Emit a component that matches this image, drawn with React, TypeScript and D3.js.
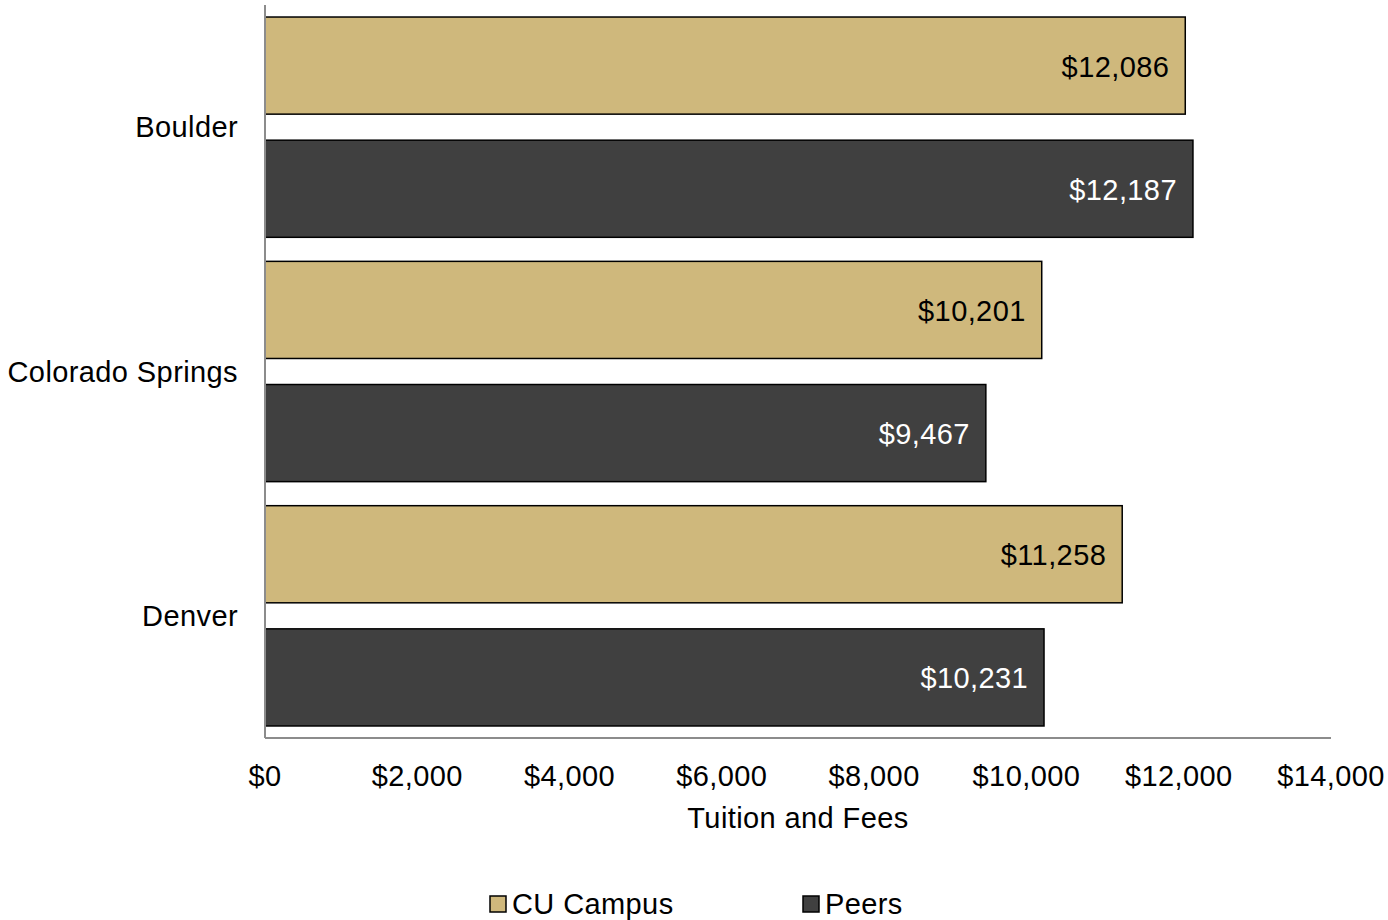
import React from "react";
import * as d3 from "d3";

const categories = ["Boulder", "Colorado Springs", "Denver"];
const seriesNames = ["CU Campus", "Peers"];
const cuCampus = [12086, 10201, 11258];
const peers = [12187, 9467, 10231];
const xTicks = [0, 2000, 4000, 6000, 8000, 10000, 12000, 14000];
const colors = ["#CFB87C", "#404040"];
const labelColors = ["#000000", "#ffffff"];

const W = 1388;
const H = 920;
const FONT = "'Liberation Sans', Arial, Helvetica, sans-serif";
const FS = 29;
const LS = 0.4;

export default function App() {
  const left = 265, right = 1331, top = 5, bottom = 738;
  const x = d3.scaleLinear().domain([0, 14000]).range([left, right]);
  const y = d3.scaleBand<string>().domain(categories).range([top, bottom]);
  const sub = d3
    .scaleBand<string>()
    .domain(seriesNames)
    .range([0, y.bandwidth()])
    .paddingInner(0.2114)
    .paddingOuter(0.0976);
  const series = [cuCampus, peers];
  const fmt = (v: number) => "$" + d3.format(",")(v);

  return (
    <svg
      width={W}
      height={H}
      style={{ position: "absolute", left: 0, top: 0, background: "#fff" }}
      fontFamily={FONT}
      letterSpacing={LS}
    >
      {categories.map((c, ci) =>
        series.map((vals, si) => {
          const y0 = (y(c) as number) + (sub(seriesNames[si]) as number);
          const h = sub.bandwidth();
          return (
            <g key={c + si}>
              <rect
                x={x(0)}
                y={y0}
                width={x(vals[ci]) - x(0)}
                height={h}
                fill={colors[si]}
                stroke="#000"
                strokeWidth={1.5}
              />
              <text
                x={x(vals[ci]) - 16}
                y={y0 + h / 2}
                dy="0.38em"
                textAnchor="end"
                fontSize={FS}
                fill={labelColors[si]}
              >
                {fmt(vals[ci])}
              </text>
            </g>
          );
        })
      )}
      <line x1={left} x2={left} y1={top} y2={bottom} stroke="#8c8c8c" strokeWidth={2} />
      <line x1={left} x2={right} y1={bottom} y2={bottom} stroke="#8c8c8c" strokeWidth={2} />
      {xTicks.map((t) => (
        <text key={t} x={x(t)} y={776} dy="0.35em" textAnchor="middle" fontSize={FS} fill="#000">
          {fmt(t)}
        </text>
      ))}
      {categories.map((c) => (
        <text
          key={c}
          x={238}
          y={(y(c) as number) + y.bandwidth() / 2}
          dy="0.35em"
          textAnchor="end"
          fontSize={FS}
          fill="#000"
        >
          {c}
        </text>
      ))}
      <text x={(left + right) / 2} y={818} dy="0.35em" textAnchor="middle" fontSize={FS} fill="#000">
        Tuition and Fees
      </text>
      {seriesNames.map((s, i) => {
        const lx = [490, 803][i];
        return (
          <g key={s}>
            <rect x={lx} y={896} width={16} height={16} fill={colors[i]} stroke="#000" strokeWidth={1.5} />
            <text x={lx + 22} y={904} dy="0.35em" fontSize={FS} fill="#000">
              {s}
            </text>
          </g>
        );
      })}
    </svg>
  );
}
